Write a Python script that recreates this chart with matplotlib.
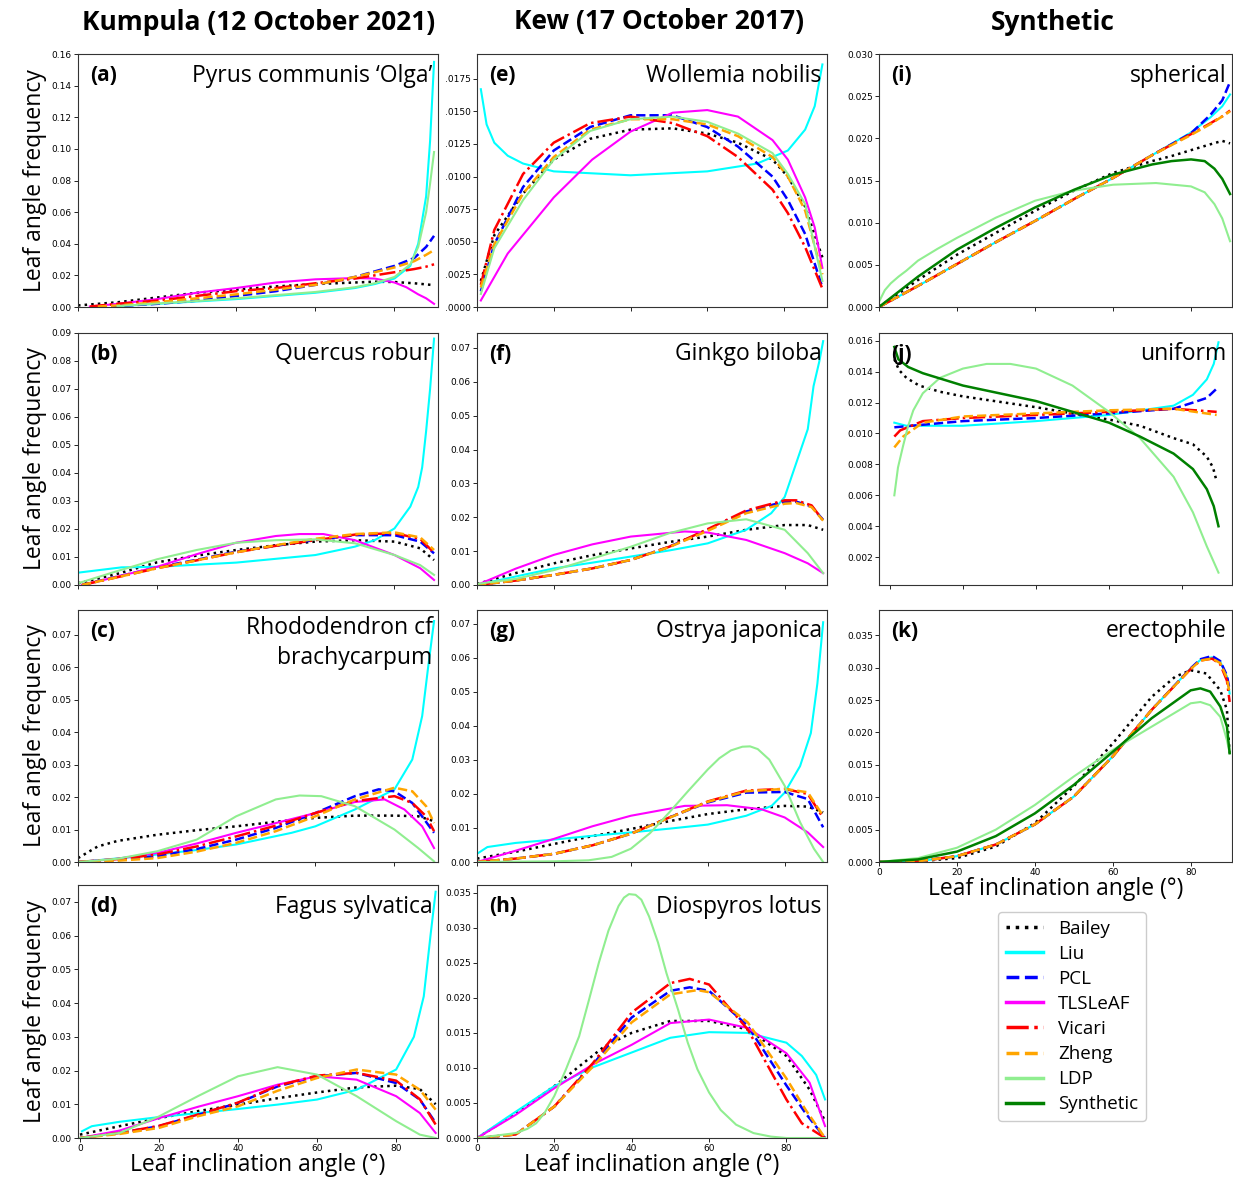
import numpy as np
import matplotlib
matplotlib.use('Agg')
import matplotlib.pyplot as plt
from matplotlib.ticker import FuncFormatter

plt.rcParams['font.family'] = ['DejaVu Sans']
LABEL_FONT = 'Open Sans'

METHODS = ['Bailey', 'Liu', 'PCL', 'TLSLeAF', 'Vicari', 'Zheng', 'LDP', 'Synthetic']
STYLE = {
    'Bailey':    dict(color='black',      ls=':',  lw=1.8),
    'Liu':       dict(color='cyan',       ls='-',  lw=1.5),
    'PCL':       dict(color='blue',       ls='--', lw=1.8),
    'TLSLeAF':   dict(color='magenta',    ls='-',  lw=1.5),
    'Vicari':    dict(color='red',        ls='-.', lw=1.8),
    'Zheng':     dict(color='orange',     ls='--', lw=1.8),
    'LDP':       dict(color='lightgreen', ls='-',  lw=1.5),
    'Synthetic': dict(color='green',      ls='-',  lw=1.8),
}

# (angles in degrees, leaf angle frequency)
PANEL_A = {  # Pyrus communis 'Olga'
    'Bailey':  ([0, 5, 10, 20, 30, 40, 50, 60, 70, 75, 80, 85, 88, 90],
                [0.001, 0.002, 0.003, 0.006, 0.009, 0.011, 0.013, 0.0145, 0.0155, 0.016, 0.0158, 0.015, 0.0143, 0.0138]),
    'Liu':     ([10, 20, 30, 40, 50, 60, 70, 75, 80, 84, 86, 88, 89, 90],
                [0.0005, 0.002, 0.0035, 0.005, 0.007, 0.009, 0.012, 0.0145, 0.018, 0.026, 0.040, 0.070, 0.105, 0.155]),
    'PCL':     ([5, 10, 20, 30, 40, 50, 60, 70, 80, 85, 88, 90],
                [0.0002, 0.0006, 0.002, 0.004, 0.007, 0.010, 0.014, 0.019, 0.026, 0.031, 0.038, 0.045]),
    'TLSLeAF': ([3, 10, 20, 30, 40, 50, 60, 70, 75, 80, 83, 86, 88, 90],
                [0.0003, 0.002, 0.005, 0.009, 0.012, 0.0155, 0.0175, 0.0183, 0.018, 0.0155, 0.0125, 0.008, 0.0055, 0.002]),
    'Vicari':  ([3, 10, 20, 30, 40, 50, 60, 70, 80, 85, 88, 90],
                [0.0003, 0.002, 0.004, 0.007, 0.010, 0.012, 0.015, 0.018, 0.022, 0.024, 0.0255, 0.027]),
    'Zheng':   ([5, 10, 20, 30, 40, 50, 60, 70, 80, 85, 88, 90],
                [0.0003, 0.001, 0.003, 0.0055, 0.008, 0.011, 0.014, 0.019, 0.025, 0.029, 0.033, 0.036]),
    'LDP':     ([10, 20, 30, 40, 50, 60, 70, 75, 80, 84, 86, 88, 89, 90],
                [0.0006, 0.0022, 0.0038, 0.0055, 0.0075, 0.0095, 0.0125, 0.015, 0.019, 0.027, 0.038, 0.060, 0.078, 0.098]),
}

PANEL_B = {  # Quercus robur
    'Bailey':  ([0, 10, 20, 30, 40, 50, 60, 70, 80, 86.5, 90],
                [0.0006, 0.004, 0.0081, 0.0105, 0.0125, 0.0142, 0.0155, 0.016, 0.0155, 0.0131, 0.0089]),
    'Liu':     ([0, 11, 20, 40, 60, 70, 75, 80, 84, 86, 87, 88, 89, 90],
                [0.0044, 0.0063, 0.0065, 0.0080, 0.0107, 0.0137, 0.0160, 0.0202, 0.028, 0.035, 0.042, 0.055, 0.070, 0.088]),
    'PCL':     ([1, 10, 20, 30, 40, 50, 60, 70, 80, 86.5, 90],
                [0, 0.003, 0.0063, 0.009, 0.0119, 0.014, 0.0161, 0.0178, 0.0178, 0.0155, 0.0113]),
    'TLSLeAF': ([1, 10, 20, 30, 40, 50, 56, 62, 70, 80, 86.5, 90],
                [0, 0.003, 0.0065, 0.011, 0.0151, 0.0175, 0.0182, 0.0182, 0.016, 0.0107, 0.006, 0.0018]),
    'Vicari':  ([1, 10, 20, 30, 40, 50, 60, 70, 80, 86.5, 90],
                [0, 0.0028, 0.006, 0.0088, 0.0117, 0.014, 0.016, 0.018, 0.0185, 0.0165, 0.0115]),
    'Zheng':   ([1, 10, 20, 30, 40, 50, 60, 70, 80, 86.5, 90],
                [0, 0.0028, 0.006, 0.0088, 0.0117, 0.0142, 0.0165, 0.0182, 0.0188, 0.017, 0.0125]),
    'LDP':     ([0, 10, 20, 30, 40, 50, 60, 70, 80, 86.5, 90],
                [0.0006, 0.005, 0.0092, 0.0125, 0.0151, 0.016, 0.0163, 0.0149, 0.0107, 0.0071, 0.0036]),
}

PANEL_C = {  # Rhododendron cf brachycarpum
    'Bailey':  ([0, 5, 10, 20, 30, 40, 50, 60, 70, 80, 86, 90],
                [0.0012, 0.0048, 0.0065, 0.0084, 0.0098, 0.011, 0.0124, 0.0136, 0.0143, 0.0143, 0.0141, 0.0126]),
    'Liu':     ([0, 10, 20, 30, 40, 54, 60, 70, 80, 84.5, 87, 88.5, 90],
                [0, 0.0011, 0.0023, 0.0037, 0.0054, 0.009, 0.011, 0.0162, 0.0224, 0.0316, 0.045, 0.060, 0.0743]),
    'PCL':     ([0, 10, 20, 30, 40, 50, 60, 70, 76, 80, 84.5, 90],
                [0, 0.0007, 0.0018, 0.004, 0.0069, 0.0105, 0.0151, 0.0203, 0.0224, 0.0218, 0.0182, 0.009]),
    'TLSLeAF': ([0, 10, 20, 30, 40, 50, 60, 70, 77.5, 82.5, 87, 90],
                [0, 0.001, 0.0028, 0.0057, 0.009, 0.012, 0.0151, 0.0185, 0.0193, 0.0162, 0.011, 0.0043]),
    'Vicari':  ([0, 10, 20, 30, 40, 50, 60, 70, 80, 84.5, 88, 90],
                [0, 0.0009, 0.0023, 0.0048, 0.0079, 0.0112, 0.0151, 0.0188, 0.0203, 0.0182, 0.0141, 0.0095]),
    'Zheng':   ([0, 10, 20, 30, 40, 50, 60, 70, 80, 84.5, 88, 90],
                [0, 0.0004, 0.0012, 0.0032, 0.0059, 0.0095, 0.0141, 0.0193, 0.0229, 0.0218, 0.0172, 0.012]),
    'LDP':     ([0, 10, 20, 30, 40, 50, 56, 61.5, 70, 80, 86, 90],
                [0, 0.001, 0.0033, 0.0069, 0.0141, 0.0193, 0.0205, 0.0203, 0.0172, 0.010, 0.0043, 0.0002]),
}

PANEL_D = {  # Fagus sylvatica
    'Bailey':  ([0, 10, 20, 30, 40, 50, 60, 70, 80, 86, 90],
                [0.001, 0.0035, 0.0059, 0.008, 0.0099, 0.0118, 0.0135, 0.015, 0.0155, 0.0145, 0.010]),
    'Liu':     ([0.5, 3, 10, 20, 30, 40, 50, 60, 70, 80, 84.5, 87, 88.7, 90],
                [0.002, 0.0035, 0.0048, 0.0062, 0.0074, 0.0086, 0.0099, 0.0114, 0.0143, 0.0203, 0.030, 0.042, 0.060, 0.073]),
    'PCL':     ([0, 10, 20, 30, 40, 50, 60, 70, 80, 86, 90],
                [0, 0.0015, 0.0035, 0.0069, 0.0104, 0.0153, 0.0183, 0.0193, 0.0163, 0.0114, 0.0045]),
    'TLSLeAF': ([0, 10, 20, 30, 40, 50, 60, 70, 80, 86, 90],
                [0, 0.0022, 0.0059, 0.0093, 0.0124, 0.0158, 0.0183, 0.0173, 0.0124, 0.0074, 0.0015]),
    'Vicari':  ([0, 10, 20, 30, 40, 50, 60, 70, 80, 86, 90],
                [0, 0.0015, 0.0036, 0.007, 0.0105, 0.0155, 0.0185, 0.0193, 0.017, 0.0115, 0.004]),
    'Zheng':   ([0, 10, 20, 30, 40, 50, 60, 70, 80, 86, 90],
                [0, 0.0012, 0.003, 0.0065, 0.0094, 0.014, 0.0178, 0.0203, 0.0188, 0.0143, 0.0084]),
    'LDP':     ([0, 10, 20, 30, 40, 50, 60, 70, 80, 86, 90],
                [0, 0.0015, 0.0064, 0.0125, 0.0183, 0.021, 0.0188, 0.0124, 0.005, 0.001, 0]),
}

PANEL_E = {  # Wollemia nobilis
    'Bailey':  ([1, 4.5, 12, 20, 29.5, 40, 51, 60, 68, 77, 81, 85.5, 90],
                [0.002, 0.0055, 0.0087, 0.0113, 0.0129, 0.0136, 0.0137, 0.0133, 0.0126, 0.0113, 0.0100, 0.0077, 0.0038]),
    'Liu':     ([1, 2.5, 4.5, 8, 12, 20, 40, 60, 73, 81, 85.5, 88, 90],
                [0.0167, 0.0140, 0.0126, 0.0116, 0.0110, 0.0104, 0.0101, 0.0104, 0.0110, 0.0120, 0.0136, 0.0154, 0.0186]),
    'PCL':     ([1, 4.5, 12, 20, 29.5, 40, 51, 60, 68, 77, 81, 85.5, 90],
                [0.0012, 0.0048, 0.0092, 0.0120, 0.0138, 0.0147, 0.0147, 0.0138, 0.0123, 0.0100, 0.0082, 0.0056, 0.0015]),
    'TLSLeAF': ([1, 8, 20, 30, 40, 51, 60, 68, 77, 81, 85.5, 88, 90],
                [0.0005, 0.0041, 0.0084, 0.0113, 0.01345, 0.0149, 0.0151, 0.0146, 0.0128, 0.0113, 0.0084, 0.0061, 0.0030]),
    'Vicari':  ([1, 4.5, 12, 20, 29.5, 40, 51, 60, 68, 77, 81, 85.5, 90],
                [0.0017, 0.0059, 0.0102, 0.0126, 0.0141, 0.0146, 0.0141, 0.0131, 0.0115, 0.0090, 0.0072, 0.0046, 0.0014]),
    'Zheng':   ([1, 4.5, 12, 20, 29.5, 40, 51, 60, 68, 77, 81, 85.5, 90],
                [0.0015, 0.0048, 0.0087, 0.0115, 0.0136, 0.0144, 0.0144, 0.0140, 0.0131, 0.0115, 0.0100, 0.0074, 0.0025]),
    'LDP':     ([1, 4.5, 12, 20, 29.5, 40, 51, 60, 68, 77, 81, 85.5, 90],
                [0.001, 0.0045, 0.0082, 0.0113, 0.0135, 0.0144, 0.0146, 0.0142, 0.0133, 0.0118, 0.0102, 0.0079, 0.0020]),
}

PANEL_F = {  # Ginkgo biloba
    'Bailey':  ([0, 10, 20, 30, 40, 50, 60, 70, 80, 86, 90],
                [0.0003, 0.0035, 0.0064, 0.0088, 0.0108, 0.0127, 0.0143, 0.0163, 0.0177, 0.0177, 0.0163]),
    'Liu':     ([0, 10, 20, 30, 40, 50, 60, 70, 76.5, 80, 83, 86, 87.5, 89, 90],
                [0, 0.0025, 0.0049, 0.0066, 0.0084, 0.0102, 0.0123, 0.0163, 0.0212, 0.026, 0.036, 0.046, 0.0587, 0.066, 0.072]),
    'PCL':     ([0, 10, 20, 30, 40, 50, 60, 70, 80, 83, 87, 90],
                [0, 0.0013, 0.003, 0.0049, 0.0074, 0.0113, 0.0163, 0.0217, 0.0246, 0.0246, 0.0232, 0.0192]),
    'TLSLeAF': ([0, 10, 20, 30, 40, 54, 60, 70, 80, 86, 90],
                [0, 0.0048, 0.0089, 0.012, 0.0143, 0.0158, 0.0155, 0.0133, 0.0094, 0.0064, 0.0035]),
    'Vicari':  ([0, 10, 20, 30, 40, 50, 60, 70, 80, 83, 87, 90],
                [0, 0.0013, 0.003, 0.0049, 0.0074, 0.0113, 0.0165, 0.022, 0.025, 0.025, 0.0235, 0.019]),
    'Zheng':   ([0, 10, 20, 30, 40, 50, 60, 70, 80, 83, 87, 90],
                [0, 0.0013, 0.003, 0.0049, 0.0074, 0.0112, 0.016, 0.0212, 0.024, 0.0242, 0.023, 0.019]),
    'LDP':     ([0, 10, 20, 30, 40, 50, 60, 70, 80, 86, 90],
                [0.0003, 0.0018, 0.0044, 0.0078, 0.0113, 0.0153, 0.0182, 0.0194, 0.0163, 0.0094, 0.0035]),
}

PANEL_G = {  # Ostrya japonica
    'Bailey':  ([0, 10, 20, 30, 40, 50, 60, 70, 80, 86, 90],
                [0.001, 0.003, 0.0053, 0.0076, 0.0097, 0.012, 0.0141, 0.0155, 0.0165, 0.0163, 0.0146]),
    'Liu':     ([0, 2.7, 10, 20, 30, 40, 50, 60, 70, 76.6, 80, 84, 86.8, 88.5, 90],
                [0.0024, 0.0044, 0.0056, 0.0066, 0.0077, 0.0087, 0.0098, 0.011, 0.0136, 0.0165, 0.0204, 0.0282, 0.0379, 0.0525, 0.0705]),
    'PCL':     ([0, 10, 20, 30, 40, 50, 60, 70, 80, 86, 90],
                [0, 0.001, 0.0024, 0.0049, 0.0083, 0.0131, 0.0175, 0.0204, 0.0206, 0.0185, 0.0102]),
    'TLSLeAF': ([0, 10, 20, 30, 40, 54, 65, 74, 80, 86, 90],
                [0, 0.0033, 0.0068, 0.0105, 0.0136, 0.0165, 0.0167, 0.0155, 0.0131, 0.0087, 0.0044]),
    'Vicari':  ([0, 10, 20, 30, 40, 50, 60, 70, 80, 86, 90],
                [0, 0.001, 0.0024, 0.0049, 0.0083, 0.0131, 0.0178, 0.021, 0.0215, 0.020, 0.013]),
    'Zheng':   ([0, 10, 20, 30, 40, 50, 60, 70, 80, 86, 90],
                [0, 0.001, 0.0024, 0.0049, 0.0083, 0.013, 0.0177, 0.0208, 0.0215, 0.0205, 0.0135]),
    'LDP':     ([0, 20, 29, 35, 40, 45, 50, 55, 60, 63, 66, 69, 71, 73, 76, 80, 84, 87.6, 90],
                [0, 0.0002, 0.0005, 0.0015, 0.0039, 0.0085, 0.0146, 0.021, 0.0272, 0.0305, 0.0328, 0.0339, 0.034, 0.0332, 0.0301, 0.0224, 0.0117, 0.0039, 0]),
}

PANEL_H = {  # Diospyros lotus
    'Bailey':  ([0, 10, 20, 33, 40, 50, 60, 70, 80, 86, 90],
                [0, 0.0035, 0.0074, 0.0131, 0.015, 0.0167, 0.0167, 0.0155, 0.0117, 0.0069, 0.0024]),
    'Liu':     ([0, 7.7, 20, 30, 40, 50, 60, 70, 80, 84, 87.7, 90],
                [0, 0.0029, 0.0074, 0.0101, 0.0122, 0.0143, 0.0151, 0.015, 0.0136, 0.0117, 0.009, 0.0055]),
    'PCL':     ([0, 10, 20, 30, 40, 50, 55, 60, 70, 80, 85, 90],
                [0, 0.0005, 0.0045, 0.0105, 0.0172, 0.021, 0.0215, 0.021, 0.016, 0.0075, 0.0035, 0]),
    'TLSLeAF': ([0, 10, 20, 30, 40, 50, 60, 70, 80, 86, 90],
                [0, 0.0033, 0.0071, 0.0105, 0.0133, 0.0164, 0.0169, 0.0157, 0.0121, 0.0079, 0.0017]),
    'Vicari':  ([0, 10, 20, 30, 40, 50, 55, 60, 70, 80, 84, 90],
                [0, 0.0005, 0.0045, 0.0107, 0.0179, 0.0221, 0.0227, 0.0219, 0.0155, 0.0055, 0.0021, 0]),
    'Zheng':   ([0, 10, 20, 30, 40, 50, 57, 60, 70, 80, 85, 90],
                [0, 0.0005, 0.0045, 0.0102, 0.0165, 0.0205, 0.0211, 0.0208, 0.0165, 0.0085, 0.004, 0]),
    'LDP':     ([0, 10, 13, 15.3, 17.5, 20, 23, 26.4, 29, 31.5, 34, 36.6, 38, 39.3, 41, 42.5, 44.5, 46.8,
                 49, 52, 54.5, 57, 60, 63, 67, 71.5, 76, 80, 90],
                [0, 0.0007, 0.0013, 0.0021, 0.0036, 0.006, 0.0098, 0.0145, 0.0198, 0.025, 0.0296, 0.0331, 0.0343,
                 0.0348, 0.0347, 0.034, 0.0316, 0.0279, 0.0235, 0.0183, 0.0136, 0.0098, 0.0065, 0.004, 0.0019,
                 0.0007, 0.0002, 0, 0]),
}

PANEL_I = {  # spherical
    'Bailey':    ([0, 10, 20, 30, 40, 50, 60, 70, 75, 80, 85, 88, 90],
                  [0, 0.0032, 0.0062, 0.0088, 0.0114, 0.0138, 0.0159, 0.0173, 0.0179, 0.0186, 0.0193, 0.0197, 0.0194]),
    'Liu':       ([0, 10, 20, 30, 40, 50, 60, 70, 80, 85, 88, 90],
                  [0, 0.0025, 0.0051, 0.0077, 0.0102, 0.0128, 0.0153, 0.018, 0.0207, 0.0225, 0.0238, 0.0252]),
    'PCL':       ([0, 10, 20, 30, 40, 50, 60, 70, 80, 85, 88, 90],
                  [0, 0.0025, 0.0051, 0.0077, 0.0102, 0.0128, 0.0153, 0.018, 0.0206, 0.0228, 0.0245, 0.0267]),
    'Vicari':    ([0, 10, 20, 30, 40, 50, 60, 70, 80, 85, 88, 90],
                  [0, 0.0025, 0.0051, 0.0077, 0.0102, 0.0128, 0.0153, 0.018, 0.0205, 0.0218, 0.0226, 0.0233]),
    'Zheng':     ([0, 10, 20, 30, 40, 50, 60, 70, 80, 85, 88, 90],
                  [0, 0.0025, 0.0051, 0.0077, 0.0102, 0.0128, 0.0153, 0.018, 0.0204, 0.0217, 0.0226, 0.0232]),
    'LDP':       ([0.2, 1.5, 3, 5, 7, 10, 15, 20, 30, 40, 50, 60, 71, 80, 83.5, 86, 88, 90],
                  [0.0008, 0.002, 0.0028, 0.0036, 0.0043, 0.0055, 0.0069, 0.0082, 0.0106, 0.0126, 0.0138, 0.0145,
                   0.0147, 0.0143, 0.0136, 0.0122, 0.0105, 0.0078]),
    'Synthetic': ([0, 10, 20, 30, 40, 50, 60, 70, 75, 80, 83.5, 86, 88, 90],
                  [0, 0.0036, 0.0068, 0.0094, 0.0118, 0.0139, 0.0157, 0.0169, 0.0173, 0.0175, 0.0173, 0.0164, 0.0152, 0.0134]),
}

PANEL_J = {  # uniform
    'Bailey':    ([1.2, 2.5, 4.5, 8, 13.7, 20, 40, 60, 68.5, 77.7, 83, 86.8, 88.5, 89.5],
                  [0.0148, 0.0141, 0.0136, 0.0131, 0.0127, 0.0124, 0.0117, 0.0109, 0.0105, 0.0097, 0.0093, 0.0085, 0.0078, 0.0069]),
    'Liu':       ([1.2, 4.5, 20, 40, 60, 77.7, 83, 86.8, 88.7, 90],
                  [0.0107, 0.0105, 0.0105, 0.0108, 0.0112, 0.0118, 0.0125, 0.0135, 0.0145, 0.0159]),
    'PCL':       ([1.2, 20, 40, 60, 77.7, 83, 86.8, 89.5],
                  [0.0104, 0.0108, 0.011, 0.0113, 0.0116, 0.012, 0.0123, 0.0129]),
    'Vicari':    ([1.2, 2.8, 9, 20, 40, 60, 77.7, 89.5],
                  [0.0098, 0.0102, 0.0108, 0.011, 0.0112, 0.0114, 0.0116, 0.0114]),
    'Zheng':     ([1.2, 3.6, 9, 20, 40, 60, 77.7, 89.5],
                  [0.0091, 0.0098, 0.0107, 0.0111, 0.0113, 0.0115, 0.0116, 0.0112]),
    'LDP':       ([1.2, 2.2, 3.6, 5, 6.4, 9, 13.7, 20, 26.5, 33, 40, 50, 60, 68.5, 77.7, 83, 86.8, 90],
                  [0.006, 0.0078, 0.0092, 0.0105, 0.0115, 0.0126, 0.0136, 0.0142, 0.0145, 0.0145, 0.0142, 0.0131,
                   0.0114, 0.0097, 0.0072, 0.0049, 0.0027, 0.0010]),
    'Synthetic': ([1.2, 2.3, 5, 9, 20, 40, 50, 60, 68.5, 77.7, 83, 86.8, 88.7, 90],
                  [0.0156, 0.0148, 0.0143, 0.0139, 0.0131, 0.0121, 0.0114, 0.0107, 0.0098, 0.0087, 0.0077, 0.0064, 0.0053, 0.0040]),
}

PANEL_K = {  # erectophile
    'Bailey':    ([0, 10, 20, 30, 40, 50, 60, 70, 76, 80, 84, 87.6, 89.3, 90],
                  [0, 0.0001, 0.0006, 0.0024, 0.006, 0.0117, 0.0183, 0.0255, 0.0286, 0.0296, 0.0291, 0.0265, 0.0235, 0.0165]),
    'Liu':       ([0, 10, 20, 30, 40, 50, 60, 70, 80, 82.5, 85.5, 87.6, 89.3, 90],
                  [0, 0.0001, 0.0009, 0.0027, 0.0058, 0.0101, 0.0163, 0.0235, 0.0299, 0.0312, 0.0316, 0.0309, 0.0286, 0.026]),
    'PCL':       ([0, 10, 20, 30, 40, 50, 60, 70, 80, 82.5, 85.5, 87.6, 89.3, 90],
                  [0, 0.0001, 0.0009, 0.0027, 0.0058, 0.0101, 0.0163, 0.0235, 0.0299, 0.0313, 0.0318, 0.031, 0.0288, 0.0265]),
    'Vicari':    ([0, 10, 20, 30, 40, 50, 60, 70, 80, 82.5, 85.5, 87.6, 89.3, 90],
                  [0, 0.0001, 0.0009, 0.0027, 0.0058, 0.0101, 0.0163, 0.0235, 0.0298, 0.0311, 0.0314, 0.0305, 0.028, 0.0247]),
    'Zheng':     ([0, 10, 20, 30, 40, 50, 60, 70, 80, 82.5, 85.5, 87.6, 89.3, 90],
                  [0, 0.0001, 0.0009, 0.0027, 0.0058, 0.0101, 0.0163, 0.0235, 0.0298, 0.0311, 0.0314, 0.0307, 0.0284, 0.026]),
    'LDP':       ([0, 10, 20, 30, 40, 50, 60, 70, 80, 82.5, 85, 87.6, 89.3, 90],
                  [0, 0.0006, 0.0022, 0.005, 0.0088, 0.0132, 0.0173, 0.0209, 0.0245, 0.0247, 0.0242, 0.0224, 0.0188, 0.0168]),
    'Synthetic': ([0, 10, 20, 30, 40, 50, 60, 70, 80, 82.5, 85, 87.6, 89.3, 90],
                  [0, 0.0004, 0.0016, 0.004, 0.0075, 0.0119, 0.017, 0.0222, 0.0265, 0.0268, 0.0263, 0.024, 0.0209, 0.0168]),
}

COLUMN_TITLES = ['Kumpula (12 October 2021)', 'Kew (17 October 2017)', 'Synthetic']
X_LABEL = 'Leaf inclination angle (°)'
Y_LABEL = 'Leaf angle frequency'

# label, title, data, column, row, ylim, ytick step, tick format, xlim, show x tick labels
PANELS = [
    ('(a)', 'Pyrus communis ‘Olga’', PANEL_A, 0, 0, (0, 0.16), 0.02, '{:.2f}', (0, 91), False),
    ('(b)', 'Quercus robur', PANEL_B, 0, 1, (0, 0.09), 0.01, '{:.2f}', (0, 91), False),
    ('(c)', 'Rhododendron cf\nbrachycarpum', PANEL_C, 0, 2, (0, 0.0777), 0.01, '{:.2f}', (0, 91), False),
    ('(d)', 'Fagus sylvatica', PANEL_D, 0, 3, (0, 0.075), 0.01, '{:.2f}', (-0.5, 90.6), True),
    ('(e)', 'Wollemia nobilis', PANEL_E, 1, 0, (0, 0.0194), 0.0025, 'short', (0, 91.2), False),
    ('(f)', 'Ginkgo biloba', PANEL_F, 1, 1, (0, 0.0744), 0.01, '{:.2f}', (0, 91), False),
    ('(g)', 'Ostrya japonica', PANEL_G, 1, 2, (0, 0.0741), 0.01, '{:.2f}', (0, 91), False),
    ('(h)', 'Diospyros lotus', PANEL_H, 1, 3, (0, 0.0361), 0.005, '{:.3f}', (0, 90.5), True),
    ('(i)', 'spherical', PANEL_I, 2, 0, (0, 0.030), 0.005, '{:.3f}', (0, 90.5), False),
    ('(j)', 'uniform', PANEL_J, 2, 1, (0.0002, 0.0165), 0.002, '{:.3f}', (-3, 93.7), False),
    ('(k)', 'erectophile', PANEL_K, 2, 2, (0, 0.0389), 0.005, '{:.3f}', (0, 90.6), True),
]

W, H = 1233, 1180
COLS = [(78, 438), (477, 827), (879, 1232)]
ROWS = [(54, 307), (333, 585), (610, 862), (885, 1138)]

fig = plt.figure(figsize=(W / 100, H / 100), dpi=100)


def px_axes(col, row):
    x0, x1 = COLS[col]
    y0, y1 = ROWS[row]
    return fig.add_axes([x0 / W, 1 - y1 / H, (x1 - x0) / W, (y1 - y0) / H])


handles = {}
for label, title, data, col, row, ylim, ystep, fmt, xlim, show_x in PANELS:
    ax = px_axes(col, row)
    for m in METHODS:
        if m not in data:
            continue
        ang, val = data[m]
        ln, = ax.plot(ang, val, label=m, **STYLE[m])
        handles[m] = ln
    ax.set_xlim(*xlim)
    ax.set_ylim(*ylim)
    ax.set_xticks([0, 20, 40, 60, 80])
    if ylim[0] > 0:
        yt = np.arange(ystep, ylim[1] + 1e-9, ystep)
    else:
        yt = np.arange(0, ylim[1] + 1e-9, ystep)
    ax.set_yticks(yt)
    if fmt == 'short':
        ax.yaxis.set_major_formatter(FuncFormatter(lambda v, p: f'{v:.4f}'[1:]))
    else:
        ax.yaxis.set_major_formatter(FuncFormatter(lambda v, p, f=fmt: f.format(v)))
    ax.tick_params(labelsize=6.5, length=3, width=0.6, pad=1.5)
    if not show_x:
        ax.tick_params(axis='x', labelbottom=False)
    else:
        ax.set_xlabel(X_LABEL, family=LABEL_FONT, fontsize=16.5, labelpad=0)
    for s in ax.spines.values():
        s.set_linewidth(0.8)
        s.set_color('#333333')
    ax.text(0.035, 0.915, label, transform=ax.transAxes, fontsize=15, fontweight='bold',
            family=LABEL_FONT, va='center', ha='left')
    if '\n' in title:
        ax.text(0.985, 0.975, title, transform=ax.transAxes, fontsize=16.5, family=LABEL_FONT,
                va='top', ha='right', linespacing=1.3)
    else:
        ax.text(0.985, 0.915, title, transform=ax.transAxes, fontsize=16.5, family=LABEL_FONT,
                va='center', ha='right')
    if col == 0:
        ax.set_ylabel(Y_LABEL, family=LABEL_FONT, fontsize=16.5, labelpad=3)

col_centres = [259, 659, 1053]
for t, cx in zip(COLUMN_TITLES, col_centres):
    fig.text(cx / W, 1 - 22 / H, t, ha='center', va='center', fontsize=19,
             fontweight='bold', family=LABEL_FONT)

leg = fig.legend([handles[m] for m in METHODS], METHODS, loc='upper left',
                 bbox_to_anchor=(998 / W, 1 - 912 / H), borderaxespad=0,
                 prop={'family': LABEL_FONT, 'size': 13.5}, handlelength=2.0,
                 labelspacing=0.38, borderpad=0.4, framealpha=1, edgecolor='#cccccc')
for ln in leg.get_lines():
    ln.set_linewidth(2.5)

fig.savefig('out.png', dpi=100)
